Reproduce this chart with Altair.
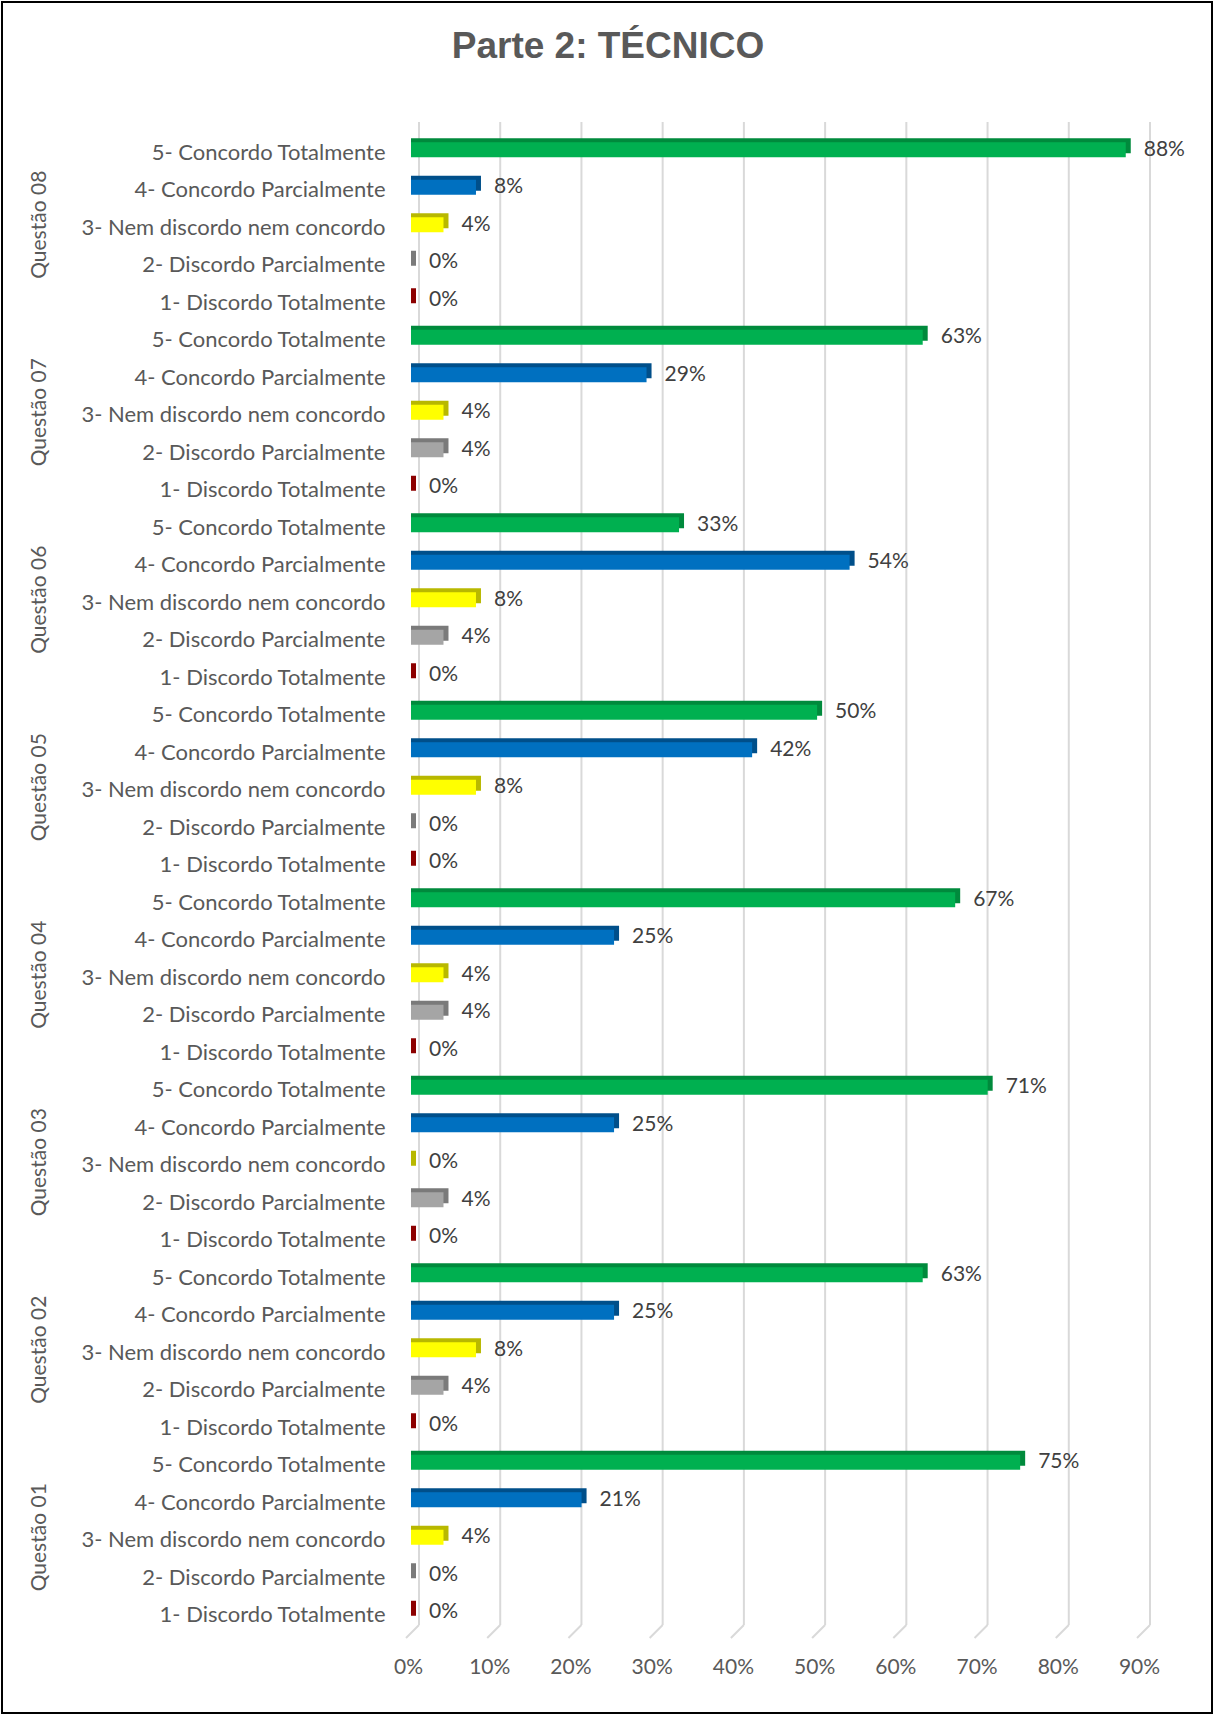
import altair as alt
import pandas as pd

# Survey answers, share of respondents (%), categories in order 1..5
questions = ["Questão 01", "Questão 02", "Questão 03", "Questão 04",
             "Questão 05", "Questão 06", "Questão 07", "Questão 08"]
categories = ["1- Discordo Totalmente", "2- Discordo Parcialmente",
              "3- Nem discordo nem concordo", "4- Concordo Parcialmente",
              "5- Concordo Totalmente"]
q01 = [0, 0, 4, 21, 75]
q02 = [0, 4, 8, 25, 63]
q03 = [0, 4, 0, 25, 71]
q04 = [0, 4, 4, 25, 67]
q05 = [0, 0, 8, 42, 50]
q06 = [0, 4, 8, 54, 33]
q07 = [0, 4, 4, 29, 63]
q08 = [0, 0, 4, 8, 88]
tick_values = [0, 10, 20, 30, 40, 50, 60, 70, 80, 90]
chart_title = "Parte 2: TÉCNICO"

front_colors = ["#c00000", "#a5a5a5", "#ffff00", "#0070c0", "#00b050"]
side_colors = ["#8c0000", "#7a7a7a", "#b8b800", "#004f8a", "#008a3c"]

series = [q01, q02, q03, q04, q05, q06, q07, q08]
rows = []
for q, vals in zip(questions, series):
    for c, v in zip(categories, vals):
        rows.append({"question": q, "cat": c, "key": f"{q}|{c}", "v": v,
                     "label": f"{v}%"})
df = pd.DataFrame(rows)

# top-to-bottom order: Questão 08 first, answer 5 above answer 1
order = [f"{q}|{c}" for q in reversed(questions) for c in reversed(categories)]

W, H = 731, 1500
LABEL_FONT = "Lato"
GRAY = "#595959"

y_scale = alt.Scale(domain=order, paddingInner=0.60, paddingOuter=0.30)
x_scale = alt.Scale(domain=[0, 90], nice=False)

y_enc = alt.Y(
    "key:N", scale=y_scale, sort=order, title=None,
    axis=alt.Axis(labelExpr="split(datum.label, '|')[1]", ticks=False,
                  domain=False, grid=False, labelFont=LABEL_FONT,
                  labelFontSize=22, labelColor=GRAY, labelPadding=26,
                  labelOffset=3, labelLimit=400),
)

base = alt.Chart(df)

# gridlines (back wall) and their short diagonal foot
grid_df = pd.DataFrame({"t": tick_values})
grid = alt.Chart(grid_df).mark_rule(color="#d9d9d9", strokeWidth=2, xOffset=8, x2Offset=8).encode(
    x=alt.X("t:Q", scale=x_scale,
            axis=alt.Axis(values=tick_values, labelExpr="datum.value + '%'",
                          ticks=False, domain=False, grid=False,
                          labelFlush=False, labelOverlap=False,
                          labelFont=LABEL_FONT, labelFontSize=21,
                          labelColor=GRAY, labelPadding=25, labelOffset=-3),
            title=None),
    y=alt.value(-9), y2=alt.value(H - 6),
)
grid_foot = alt.Chart(grid_df).mark_rule(color="#d9d9d9", strokeWidth=2, xOffset=8, x2Offset=-5).encode(
    x=alt.X("t:Q", scale=x_scale), x2="t:Q",
    y=alt.value(H - 6), y2=alt.value(H + 7),
)

# depth face of each bar (top strip + right side)
depth = base.mark_bar(xOffset=5, yOffset=-4, y2Offset=-4).encode(
    x=alt.X("v:Q", scale=x_scale, stack=None),
    y=y_enc,
    color=alt.Color("cat:N", scale=alt.Scale(domain=categories, range=side_colors), legend=None),
)

front = base.mark_bar().encode(
    x=alt.X("v:Q", scale=x_scale, stack=None),
    y=y_enc,
    fill=alt.Fill("cat:N", scale=alt.Scale(domain=categories, range=front_colors), legend=None),
)

values = base.mark_text(align="left", baseline="middle", dx=18, dy=0,
                        font=LABEL_FONT, fontSize=21, color="#404040").encode(
    x=alt.X("v:Q", scale=x_scale),
    y=y_enc,
    text="label:N",
)

group_df = df[df["cat"] == categories[2]]
groups = alt.Chart(group_df).mark_text(angle=270, align="center", baseline="middle",
                                       font=LABEL_FONT, fontSize=21, color=GRAY).encode(
    x=alt.value(-371),
    y=y_enc,
    text="question:N",
)

title = alt.Chart(pd.DataFrame({"t": [chart_title]})).mark_text(
    font="Liberation Sans", fontSize=37, fontWeight="bold", color=GRAY,
    align="center", baseline="middle").encode(
    x=alt.value(197), y=alt.value(-84), text="t:N",
)

frame = alt.Chart(pd.DataFrame({"f": [0]})).mark_rect(
    fill=None, stroke="#000000", strokeWidth=2).encode(
    x=alt.value(-409), x2=alt.value(801), y=alt.value(-129), y2=alt.value(1582),
)

chart = alt.layer(grid, grid_foot, depth, front, values, groups, title, frame).properties(
    width=W, height=H,
    autosize=alt.AutoSizeParams(type="none"),
    padding={"left": 411, "top": 131, "right": 72, "bottom": 84},
    background="white",
).configure_view(stroke=None)

chart.save("out.html", embed_options={"renderer": "svg", "actions": False})
